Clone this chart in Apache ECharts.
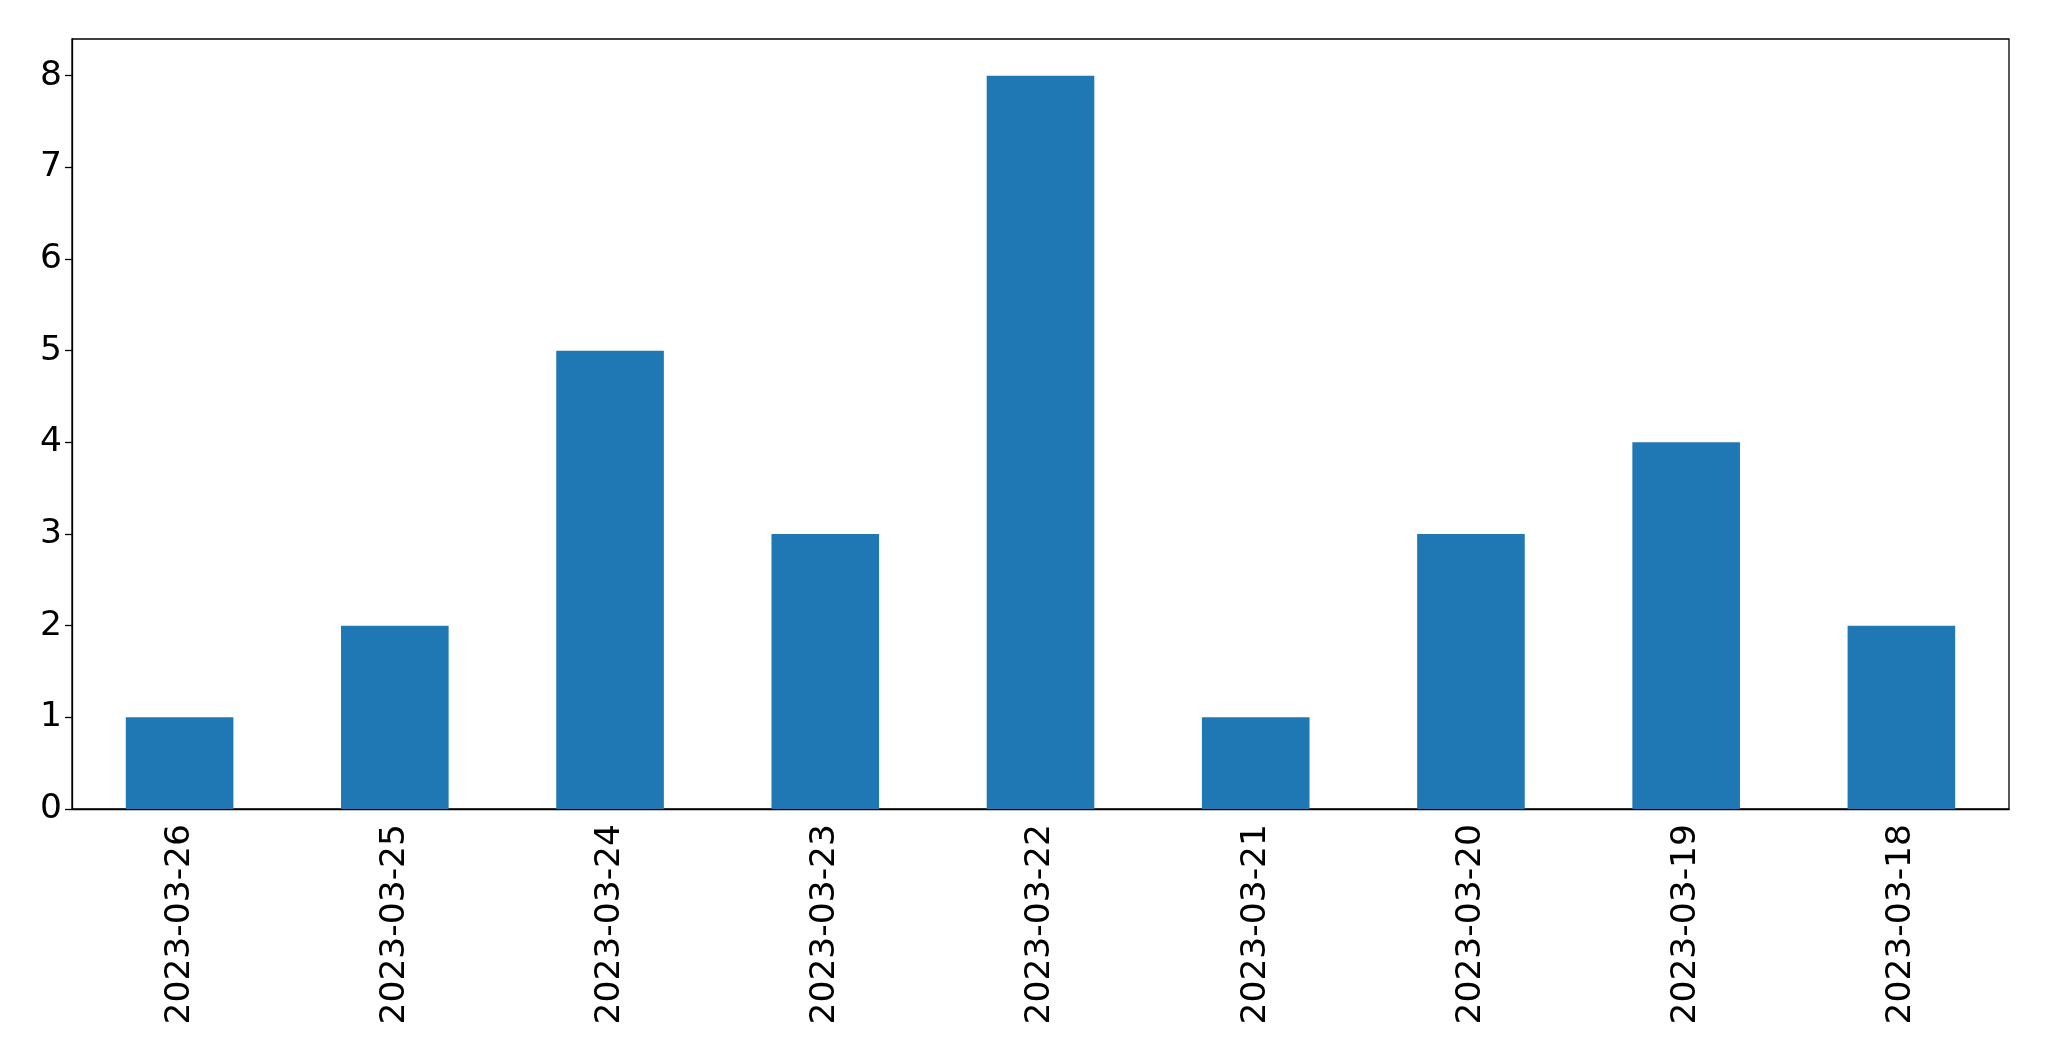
<!DOCTYPE html>
<html>
<head>
<meta charset="utf-8">
<script src="https://cdn.jsdelivr.net/npm/echarts@6/dist/echarts.min.js"></script>
<style>html,body{margin:0;padding:0;background:#fff;}#c{width:2049px;height:1061px;}</style>
</head>
<body>
<div id="c"></div>
<script>
const categories = ["2023-03-26","2023-03-25","2023-03-24","2023-03-23","2023-03-22","2023-03-21","2023-03-20","2023-03-19","2023-03-18"];
const counts = [1, 2, 5, 3, 8, 1, 3, 4, 2];
const yTicks = [0, 1, 2, 3, 4, 5, 6, 7, 8];

const chart = echarts.init(document.getElementById('c'), null, {renderer: 'canvas'});
const font = 'DejaVu Sans';
chart.setOption({
  animation: false,
  backgroundColor: '#fff',
  grid: {left: 72, right: 40, top: 39, bottom: 252, show: true, borderColor: '#000', borderWidth: 1.3, containLabel: false},
  xAxis: {
    type: 'category',
    data: categories,
    boundaryGap: true,
    axisLine: {lineStyle: {color: '#000', width: 1.3}},
    axisTick: {alignWithLabel: true, length: 7, lineStyle: {color: '#000', width: 1.3}},
    axisLabel: {rotate: 90, fontFamily: font, fontSize: 34.5, color: '#000', margin: 15, interval: 0},
    splitLine: {show: false}
  },
  yAxis: {
    type: 'value',
    min: 0, max: 8.4, interval: 1,
    axisLine: {show: true, lineStyle: {color: '#000', width: 1.3}},
    axisTick: {show: true, length: 7, lineStyle: {color: '#000', width: 1.3}, customValues: yTicks},
    axisLabel: {fontFamily: font, fontSize: 34.5, color: '#000', margin: 10, customValues: yTicks},
    splitLine: {show: false}
  },
  series: [{
    type: 'bar',
    data: counts,
    barWidth: '50%',
    itemStyle: {color: '#1f77b4'}
  }]
});
</script>
</body>
</html>
